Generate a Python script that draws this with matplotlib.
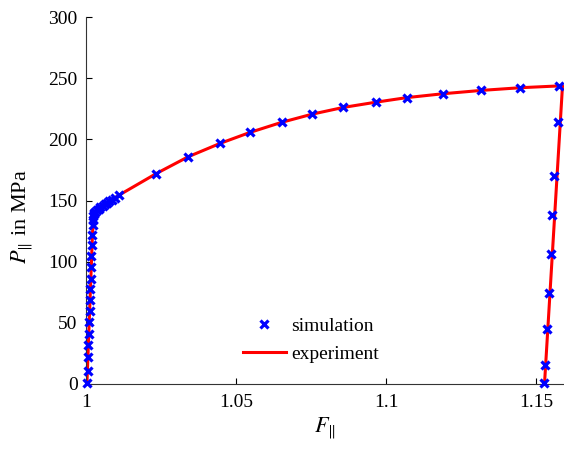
import matplotlib
matplotlib.use("Agg")
import matplotlib.pyplot as plt

# simulation markers (F_par, P_par in MPa)
sim_f = [1.0004, 1.0005, 1.0007, 1.0008, 1.0009, 1.0011, 1.0012, 1.0013, 1.0014, 1.0015,
         1.0017, 1.0018, 1.0019, 1.0021, 1.0022, 1.0023, 1.0024, 1.0025, 1.0026,
         1.0030, 1.0036, 1.0042, 1.0048, 1.0055, 1.0062, 1.0070, 1.0078, 1.0086, 1.0095, 1.0111,
         1.0234, 1.0341, 1.0447, 1.0547, 1.0652, 1.0754, 1.0858, 1.0967, 1.1069, 1.1191,
         1.1318, 1.1448, 1.1577,
         1.1574, 1.1561, 1.1554, 1.1549, 1.1543, 1.1538, 1.1530, 1.1528]
sim_p = [1, 11, 22, 32, 41, 51, 60, 69, 78, 86,
         96, 105, 114, 122, 130, 134, 137, 139, 140,
         141, 142.2, 143.3, 144.4, 145.6, 146.8, 148, 149.3, 150.8, 152.2, 154.5,
         172, 185.8, 196.7, 205.7, 213.9, 220.6, 226.1, 230.3, 234.1, 237.3,
         240, 242.3, 243.3,
         214.4, 170.3, 138.1, 106.3, 74.6, 45, 15.5, 0.8]

# experiment curve
exp_f = [1.0003, 1.0022, 1.0026, 1.0030, 1.0036, 1.0050, 1.0070, 1.0090, 1.0111,
         1.0234, 1.0341, 1.0447, 1.0547, 1.0652, 1.0754, 1.0858, 1.0967, 1.1069,
         1.1191, 1.1318, 1.1448, 1.1588, 1.1528]
exp_p = [0, 125, 134, 138, 140.5, 143.5, 147.3, 151, 154.5,
         172, 185.8, 196.7, 205.7, 213.9, 220.6, 226.1, 230.4, 234.1,
         237.3, 240, 242.2, 243.8, 0]

x_ticks = [1.0, 1.05, 1.1, 1.15]
x_tick_labels = ["1", "1.05", "1.1", "1.15"]
y_ticks = [0, 50, 100, 150, 200, 250, 300]

plt.rcParams["font.family"] = ["Liberation Serif", "DejaVu Serif"]
plt.rcParams["mathtext.fontset"] = "stix"
plt.rcParams["font.size"] = 14

fig = plt.figure(figsize=(5.64, 4.54), dpi=100)
ax = fig.add_axes([86 / 564, 70 / 454, 478 / 564, 367 / 454])

ax.plot(exp_f, exp_p, color="#ff0000", linewidth=2.2, label="experiment", zorder=2)
ax.plot(sim_f, sim_p, linestyle="none", marker="x", markersize=5.5, markeredgewidth=2.3,
        color="#0000ff", label="simulation", zorder=3, clip_on=False)

ax.set_xlim(1.0, 1.1593)
ax.set_ylim(0, 300)
ax.set_xticks(x_ticks)
ax.set_xticklabels(x_tick_labels)
ax.set_yticks(y_ticks)
ax.tick_params(direction="in", length=4, width=0.8, labelsize=14)
ax.tick_params(axis="x", pad=7)
ax.tick_params(axis="y", pad=6)
for side in ["top", "right"]:
    ax.spines[side].set_visible(False)
for side in ["left", "bottom"]:
    ax.spines[side].set_color("#333333")

ax.set_xlabel(r"$F_{\|}$", fontsize=16, labelpad=4)
ax.set_ylabel(r"$P_{\|}$ in MPa", fontsize=16)
ax.yaxis.set_label_coords(-0.104, 0.455)

handles, labels = ax.get_legend_handles_labels()
ax.legend(handles[::-1], labels[::-1], frameon=False, loc="lower left",
          bbox_to_anchor=(243 / 564, (454 - 363) / 454), bbox_transform=fig.transFigure,
          borderpad=0, borderaxespad=0, handlelength=2.2, handletextpad=0.3,
          labelspacing=0.55, fontsize=14)

fig.savefig("out.png", dpi=100)
